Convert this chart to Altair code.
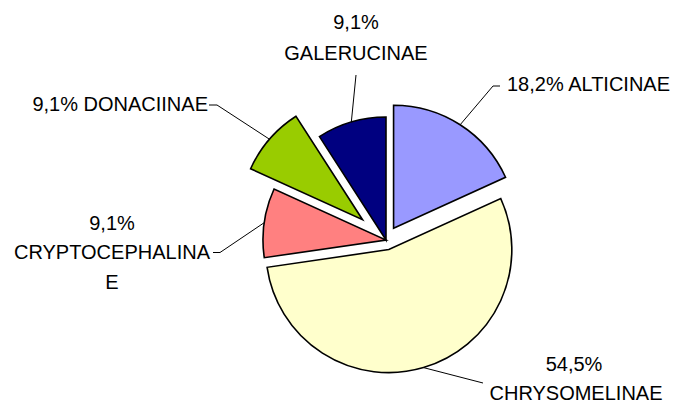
import math
import altair as alt
import pandas as pd

# ---- data ----
categories = ["ALTICINAE", "CHRYSOMELINAE", "CRYPTOCEPHALINAE", "DONACIINAE", "GALERUCINAE"]
percent = [18.2, 54.5, 9.1, 9.1, 9.1]
pct_text = ["18,2%", "54,5%", "9,1%", "9,1%", "9,1%"]
colors = ["#9999FF", "#FFFFCC", "#FF8080", "#99CC00", "#000080"]

# ---- layout (page pixels) ----
M = 8                      # page margin
W, H = 680, 397
CX, CY, R = 386, 240, 123  # pie centre / radius
explode = [14, 10, 0, 31, 0]

# label text lines: (category, text, x, y, align)
label_lines = [
    ("ALTICINAE", "18,2% ALTICINAE", 507, 85, "left"),
    ("GALERUCINAE", "9,1%", 356, 23, "center"),
    ("GALERUCINAE", "GALERUCINAE", 356, 54, "center"),
    ("DONACIINAE", "9,1% DONACIINAE", 208, 105, "right"),
    ("CRYPTOCEPHALINAE", "9,1%", 112, 223.5, "center"),
    ("CRYPTOCEPHALINAE", "CRYPTOCEPHALINA", 112, 252.5, "center"),
    ("CRYPTOCEPHALINAE", "E", 112, 282.5, "center"),
    ("CHRYSOMELINAE", "54,5%", 574, 365, "center"),
    ("CHRYSOMELINAE", "CHRYSOMELINAE", 576, 394, "center"),
]
# leader elbow / end points
leader_pts = {
    "ALTICINAE": [(493, 86), (500, 86)],
    "GALERUCINAE": [(356, 75)],
    "DONACIINAE": [(217, 105), (209, 105)],
    "CRYPTOCEPHALINAE": [(220, 252.5), (213, 252.5)],
    "CHRYSOMELINAE": [(483, 383)],
}

# ---- build tables ----
rows = []
cum = 0.0
total = sum(percent)
for i, (c, p) in enumerate(zip(categories, percent)):
    p0, p1 = cum, cum + p
    cum = p1
    mid = (p0 + p1) / 2 / total * 2 * math.pi
    ox = CX + explode[i] * math.sin(mid)
    oy = CY - explode[i] * math.cos(mid)
    rows.append(dict(cat=c, idx=i, p0=p0, p1=p1, cx=ox - M, cy=oy - M,
                     ex=ox + R * math.sin(mid) - M, ey=oy - R * math.cos(mid) - M))
slices = pd.DataFrame(rows)

lrows = []
for r in rows:
    pts = [(r["ex"], r["ey"])] + [(x - M, y - M) for x, y in leader_pts[r["cat"]]]
    for k, (x, y) in enumerate(pts):
        lrows.append(dict(cat=r["cat"], k=k, x=x, y=y))
leaders = pd.DataFrame(lrows)

texts = pd.DataFrame([dict(cat=c, text=t, x=x - M, y=y - M, align=a) for c, t, x, y, a in label_lines])

pie = alt.Chart(slices).mark_arc(outerRadius=R, stroke="#000000", strokeWidth=1.6).encode(
    theta=alt.Theta("p0:Q", scale=alt.Scale(domain=[0, total], range=[0, 2 * math.pi]), stack=False),
    theta2="p1:Q",
    x=alt.X("cx:Q", scale=None, axis=None, stack=False),
    y=alt.Y("cy:Q", scale=None, axis=None, stack=False),
    color=alt.Color("cat:N", scale=alt.Scale(domain=categories, range=colors), legend=None),
)

lines = alt.Chart(leaders).mark_line(color="#000000", strokeWidth=1).encode(
    x=alt.X("x:Q", scale=None, axis=None),
    y=alt.Y("y:Q", scale=None, axis=None),
    detail="cat:N",
    order="k:Q",
)

def text_layer(al):
    return alt.Chart(texts).transform_filter(alt.datum.align == al).mark_text(
        align=al, baseline="middle", font="Liberation Sans", fontSize=20, color="#000000"
    ).encode(
        x=alt.X("x:Q", scale=None, axis=None),
        y=alt.Y("y:Q", scale=None, axis=None),
        text="text:N",
    )

chart = alt.layer(pie, lines, text_layer("left"), text_layer("center"), text_layer("right")).properties(
    width=W, height=H, padding=0, autosize="none"
).configure_view(stroke=None)

chart.save("out.html", embed_options={"renderer": "svg", "actions": False})
